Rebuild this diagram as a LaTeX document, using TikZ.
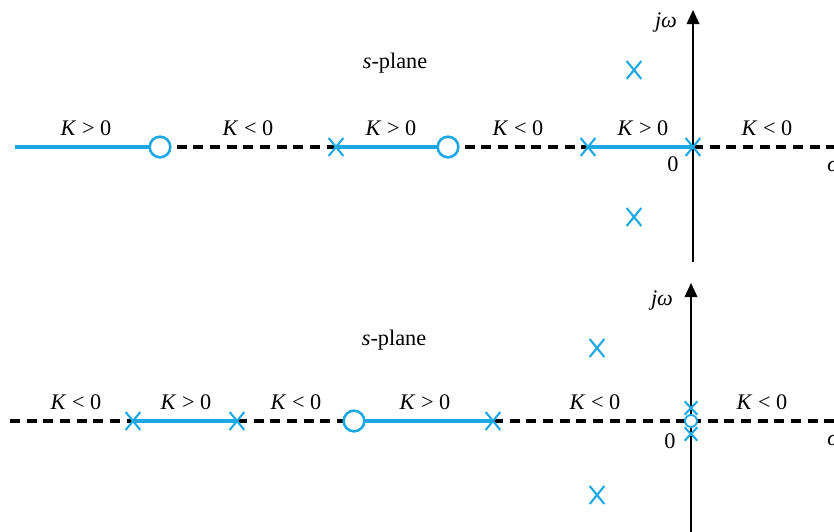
\documentclass[tikz,border=0pt]{standalone}
\usepackage{fontspec}
\setmainfont{Liberation Serif}
\usetikzlibrary{arrows.meta,shapes.misc,backgrounds}
\definecolor{loc}{HTML}{1CA8E4}

\begin{document}
\begin{tikzpicture}[x=0.03cm,y=-0.03cm,
    pole/.style={cross out,draw=loc,line width=1.8pt,minimum width=4.4mm,minimum height=5.4mm,inner sep=0pt,outer sep=0pt},
    spole/.style={pole,minimum width=3.8mm,minimum height=4mm},
    zero/.style={circle,draw=loc,fill=white,line width=2.2pt,minimum size=6.2mm,inner sep=0pt},
    szero/.style={zero,line width=1.6pt,minimum size=3.6mm},
    lab/.style={font=\fontsize{19}{22}\selectfont,inner sep=1pt},
    posk/.style={loc,line width=3pt},
    negk/.style={black,line width=2.6pt,dash pattern=on 3mm off 2mm},
    axis/.style={black,line width=1.3pt,-{Triangle[length=4.2mm,width=3.8mm]}}]
    \useasboundingbox (0,0) rectangle (834,532);

    % upper plot
    \coordinate (tl) at (15,147);
    \coordinate (tr) at (834,147);
    \coordinate (tb) at (693,262);
    \coordinate (tt) at (693,10);
    \node[zero] (z1) at (160,147) {};
    \node[pole] (p1) at (336,147) {};
    \node[zero] (z2) at (448,147) {};
    \node[pole] (p2) at (588,147) {};
    \node[pole] (p0) at (693,147) {};
    \node[pole] (pa) at (634,70) {};
    \node[pole] (pb) at (634,217) {};
    \node[lab] (ka) at (86,128) {\textit{K} > 0};
    \node[lab] (kb) at (248,128) {\textit{K} < 0};
    \node[lab] (kc) at (391,128) {\textit{K} > 0};
    \node[lab] (kd) at (518,128) {\textit{K} < 0};
    \node[lab] (ke) at (643,128) {\textit{K} > 0};
    \node[lab] (kf) at (767,128) {\textit{K} < 0};
    \node[lab] (sp1) at (395,63) {\textit{s}-plane};
    \node[lab] (jw1) at (666,22) {\textit{jω}};
    \node[lab] (o1) at (673,164) {0};
    \node[lab,anchor=west] (sg1) at (826,166) {\textit{σ}};

    % lower plot
    \coordinate (bl) at (10,421);
    \coordinate (br) at (834,421);
    \coordinate (bb) at (691,532);
    \coordinate (bt) at (691,283);
    \node[pole] (p3) at (133,421) {};
    \node[pole] (p4) at (237,421) {};
    \node[zero] (z3) at (354,421) {};
    \node[pole] (p5) at (493,421) {};
    \node[szero] (z0) at (691,421) {};
    \node[spole] (pu) at (691,408) {};
    \node[spole] (pd) at (691,434) {};
    \node[pole] (pc) at (597,348) {};
    \node[pole] (pe) at (597,495) {};
    \node[lab] (kg) at (76,402) {\textit{K} < 0};
    \node[lab] (kh) at (186,402) {\textit{K} > 0};
    \node[lab] (ki) at (296,402) {\textit{K} < 0};
    \node[lab] (kj) at (425,402) {\textit{K} > 0};
    \node[lab] (kk) at (595,402) {\textit{K} < 0};
    \node[lab] (kl) at (762,402) {\textit{K} < 0};
    \node[lab] (sp2) at (394,340) {\textit{s}-plane};
    \node[lab] (jw2) at (662,300) {\textit{jω}};
    \node[lab] (o2) at (670,441) {0};
    \node[lab,anchor=west] (sg2) at (826,440) {\textit{σ}};

    \begin{scope}[on background layer]
    \draw[axis] (tb) -- (tt); \draw[axis] (bb) -- (bt);
    \draw[posk] (tl) -- (z1.center);
    \draw[negk] (z1.center) -- (p1.center);
    \draw[posk] (p1.center) -- (z2.center);
    \draw[negk] (z2.center) -- (p2.center);
    \draw[posk] (p2.center) -- (p0.center);
    \draw[negk] (p0.center) -- (tr);
    \draw[negk] (bl) -- (p3.center);
    \draw[posk] (p3.center) -- (p4.center);
    \draw[negk] (p4.center) -- (z3.center);
    \draw[posk] (z3.center) -- (p5.center);
    \draw[negk] (p5.center) -- (z0.center);
    \draw[negk] (z0.center) -- (br);
    \end{scope}
\end{tikzpicture}
\end{document}
